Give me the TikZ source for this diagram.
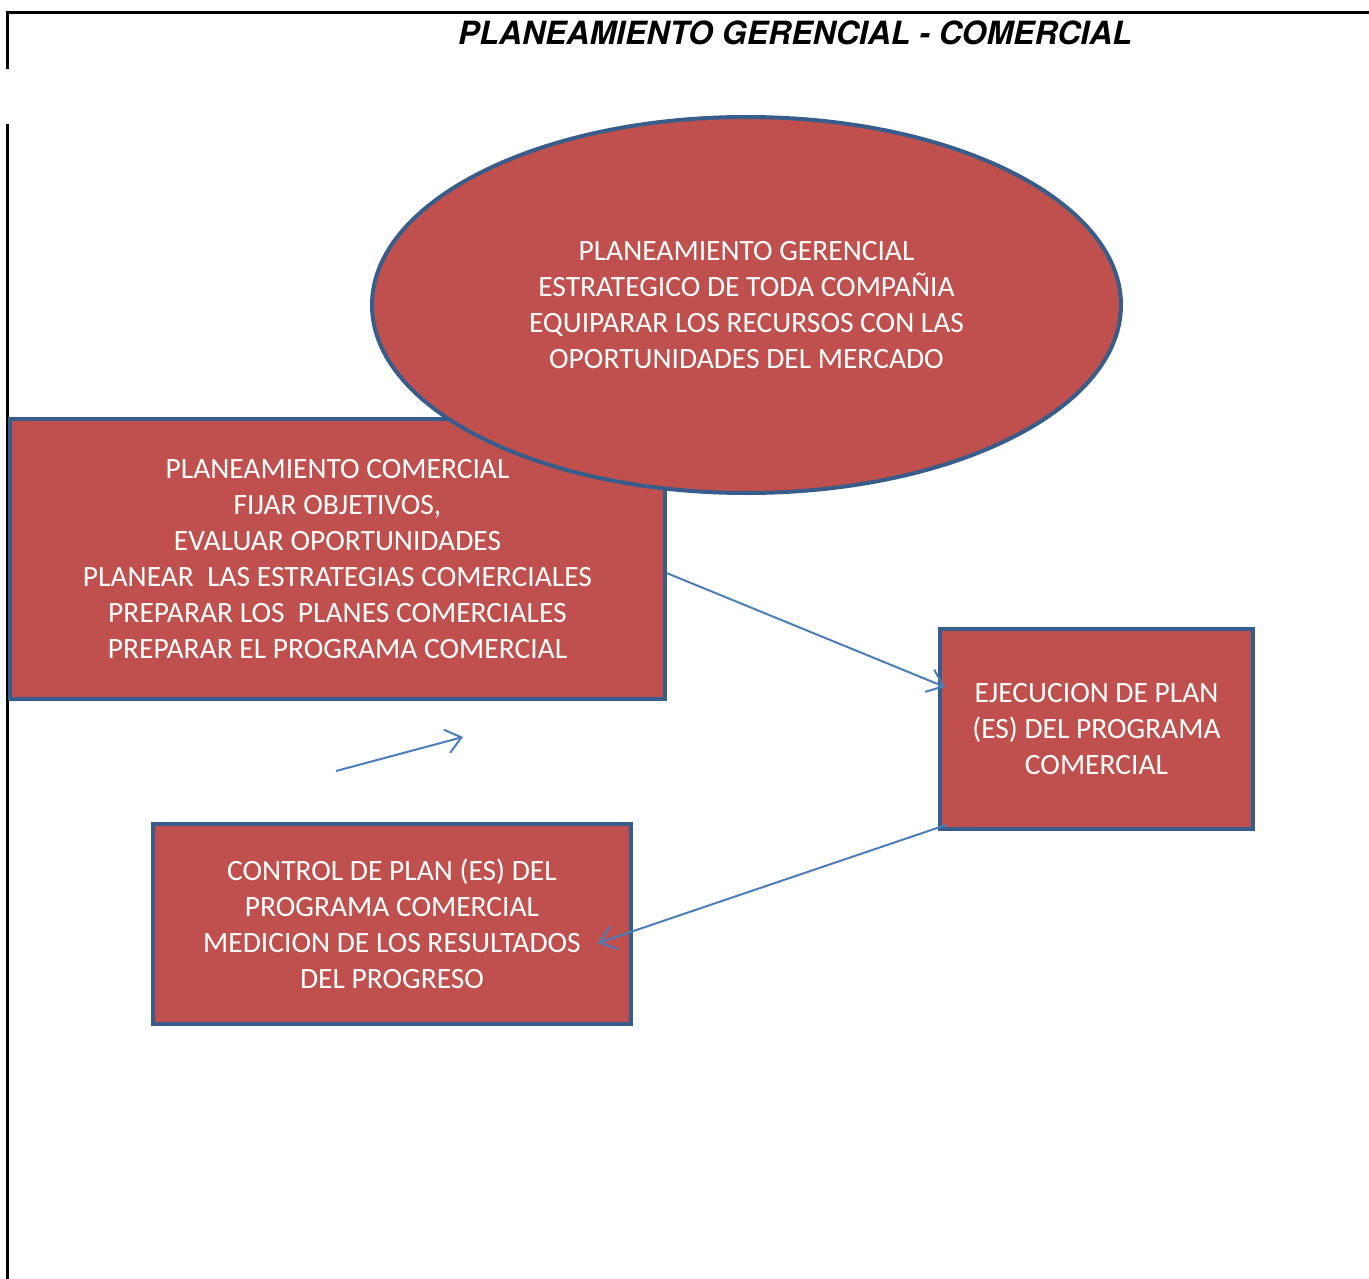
\documentclass[tikz,border=0pt]{standalone}
\usepackage{fontspec}
\setmainfont{Carlito}
\newfontfamily\titlefont{TeX Gyre Heros}
\usepackage{xcolor}
\usetikzlibrary{calc}
\usetikzlibrary{shapes.geometric}
\usetikzlibrary{arrows.meta}

\definecolor{boxred}{HTML}{C0504D}
\definecolor{boxblue}{HTML}{385D8A}
\definecolor{lineblue}{HTML}{4A7EBB}

\begin{document}
\begin{tikzpicture}[x=1pt, y=-1pt, every node/.style={text=white, align=center, font=\fontsize{29.5}{36}\selectfont}, box/.style={draw=boxblue, fill=boxred, line width=4pt, rectangle}, oval/.style={draw=boxblue, fill=boxred, line width=4pt, ellipse, inner sep=0pt}, conn/.style={draw=lineblue, line width=2pt, -{Straight Barb[length=15pt,width=24pt,line width=2pt]}}]
  \useasboundingbox (0,0) rectangle (1369,1279);
  % frame
  \draw[line width=3pt] (7.5,69) -- (7.5,12.5) -- (1369,12.5);
  \draw[line width=3pt] (7.5,124) -- (7.5,1279);
  \node(title)[text=black, font=\titlefont\bfseries\itshape\fontsize{32}{38}\selectfont] at (795,33) {PLANEAMIENTO GERENCIAL - COMERCIAL};
  % boxes
  \node(plan)[box, minimum width=655pt, minimum height=280pt] at (337.5,559) {PLANEAMIENTO COMERCIAL\\FIJAR OBJETIVOS,\\EVALUAR OPORTUNIDADES\\PLANEAR\ \ LAS ESTRATEGIAS COMERCIALES\\PREPARAR LOS\ \ PLANES COMERCIALES\\PREPARAR EL PROGRAMA COMERCIAL};
  \node(gerencia)[oval, minimum width=749pt, minimum height=376pt] at (746.5,305) {PLANEAMIENTO GERENCIAL\\ESTRATEGICO DE TODA COMPA\~NIA\\EQUIPARAR LOS RECURSOS CON LAS\\OPORTUNIDADES DEL MERCADO};
  \node(ejec)[box, minimum width=313pt, minimum height=200pt] at (1096.5,729) {EJECUCION DE PLAN\\(ES) DEL PROGRAMA\\COMERCIAL};
  \node(ctrl)[box, minimum width=478pt, minimum height=200pt] at (392,924) {CONTROL DE PLAN (ES) DEL\\PROGRAMA COMERCIAL\\MEDICION DE LOS RESULTADOS\\DEL PROGRESO};
  \coordinate(fbase) at (336,771);
  \coordinate(ftip) at (463,737);
  % connectors
  \draw[conn] ($(plan.east)!0.1!(plan.south east)$) -- ($(ejec.west)+(7,-42)$);
  \draw[conn] ($(ejec.south west)+(8,-6)$) -- ($(ctrl.east)+(-35,19)$);
  \draw[conn] (fbase) -- (ftip);
\end{tikzpicture}
\end{document}
